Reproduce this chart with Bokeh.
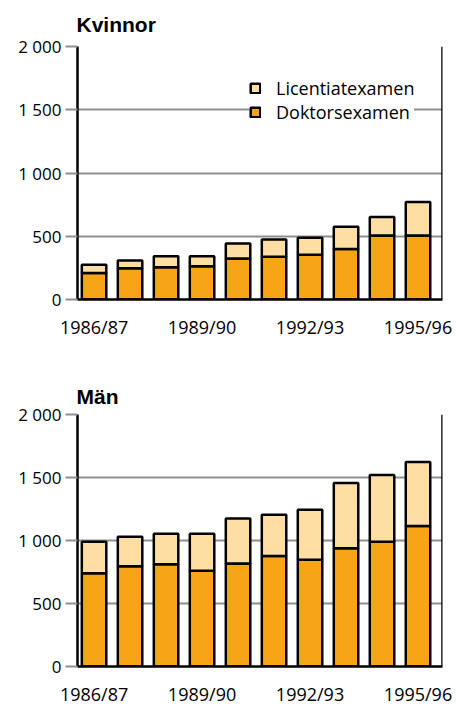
from bokeh.plotting import figure
from bokeh.models import (Range1d, FixedTicker, Legend, LegendItem, Span,
                          ColumnDataSource)
from bokeh.layouts import column
from bokeh.embed import file_html
from bokeh.resources import INLINE

categories = ["1986/87", "1987/88", "1988/89", "1989/90", "1990/91",
              "1991/92", "1992/93", "1993/94", "1994/95", "1995/96"]
tick_labels = ["1986/87", "1989/90", "1992/93", "1995/96"]
y_ticks = [0, 500, 1000, 1500, 2000]
y_tick_labels = ["0", "500", "1 000", "1 500", "2 000"]

kvinnor_doktor = [210, 247, 255, 263, 324, 337, 353, 400, 505, 505]
kvinnor_licentiat = [64, 61, 87, 79, 118, 137, 136, 176, 148, 266]
man_doktor = [740, 796, 812, 759, 817, 877, 848, 938, 991, 1115]
man_licentiat = [251, 234, 242, 295, 358, 327, 396, 519, 529, 508]

DARK = "#F7A516"
LIGHT = "#FFDEA3"
GRID = "#8f8f8f"
FONT = "Open Sans"

X0, X1 = -0.46, 9.68


def make(title, dok, lic, height, top, bottom, left, right, title_standoff,
         with_legend):
    p = figure(width=457, height=height, x_range=Range1d(X0, X1),
               y_range=Range1d(0, 2000), output_backend="svg",
               toolbar_location=None, min_border_left=left,
               min_border_right=right, min_border_top=top,
               min_border_bottom=bottom)
    p.outline_line_color = None
    p.background_fill_color = "white"
    src = ColumnDataSource(dict(x=list(range(len(categories))), dok=dok, lic=lic))
    rs = p.vbar_stack(["dok", "lic"], x="x", width=0.68, source=src,
                      fill_color=[DARK, LIGHT], line_color="black",
                      line_width=2.5)

    p.title.text = title
    p.title.align = "left"
    p.title.offset = -1
    p.title.standoff = title_standoff
    p.title.text_font = "Liberation Sans"
    p.title.text_font_style = "bold"
    p.title.text_font_size = "21px"
    p.title.text_color = "black"

    p.xgrid.visible = False
    p.ygrid.ticker = FixedTicker(ticks=y_ticks)
    p.ygrid.grid_line_color = GRID
    p.ygrid.grid_line_width = 2

    xa = p.xaxis[0]
    xa.ticker = FixedTicker(ticks=[categories.index(t) for t in tick_labels])
    xa.major_label_overrides = {categories.index(t): t for t in tick_labels}
    xa.major_tick_line_color = None
    xa.minor_tick_line_color = None
    xa.axis_line_color = "black"
    xa.axis_line_width = 2.5
    xa.major_label_standoff = 9
    xa.major_label_text_font = FONT
    xa.major_label_text_font_size = "18px"
    xa.major_label_text_color = "black"

    ya = p.yaxis[0]
    ya.ticker = FixedTicker(ticks=y_ticks)
    ya.major_label_overrides = dict(zip(y_ticks, y_tick_labels))
    ya.major_tick_line_color = GRID
    ya.major_tick_line_width = 2
    ya.major_tick_out = 12
    ya.major_tick_in = 0
    ya.minor_tick_line_color = None
    ya.axis_line_color = "black"
    ya.axis_line_width = 2.5
    ya.major_label_standoff = 4
    ya.major_label_text_font = FONT
    ya.major_label_text_font_size = "17px"
    ya.major_label_text_color = "black"

    p.add_layout(Span(location=X1, dimension="height", line_color="black",
                      line_width=2.5))

    if with_legend:
        legend = Legend(items=[LegendItem(label="Licentiatexamen", renderers=[rs[1]]),
                               LegendItem(label="Doktorsexamen", renderers=[rs[0]])],
                        location=(172, 175), glyph_width=12, glyph_height=12,
                        label_height=20, spacing=0, padding=6, margin=0,
                        label_standoff=15, border_line_color=None,
                        background_fill_color="white", background_fill_alpha=1,
                        label_text_font=FONT, label_text_font_size="18px",
                        label_text_color="black")
        p.add_layout(legend)
    return p


p1 = make("Kvinnor", kvinnor_doktor, kvinnor_licentiat, 343, 46, 44, 74, 15, 21, True)
p2 = make("Män", man_doktor, man_licentiat, 365, 71, 41, 77, 13, 14, False)

layout = column(p1, p2, spacing=0)
open("out.html", "w").write(file_html(layout, INLINE))
